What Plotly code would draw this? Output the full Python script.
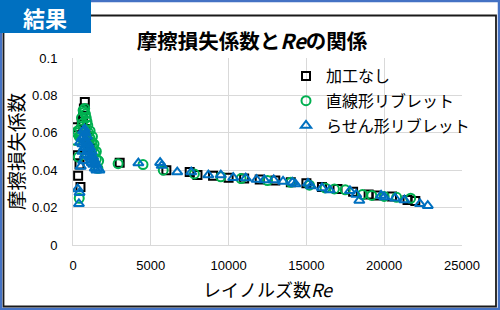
import plotly.graph_objects as go

# ---- data ----
sq_re = [150, 300, 330, 420, 480, 560, 650, 700, 760, 800, 900, 1000, 1100,
         3000, 6000, 7500, 8000, 9000, 10000, 11000, 12000, 13000, 14000,
         15000, 16000, 17000, 18000, 19000, 19500, 20500, 21500, 22000]
sq_f = [0.063, 0.048, 0.037, 0.043, 0.031, 0.066, 0.069, 0.073, 0.0765, 0.062,
        0.058, 0.055, 0.052, 0.044, 0.040, 0.039, 0.0375, 0.037, 0.036, 0.0355,
        0.035, 0.0345, 0.0335, 0.033, 0.031, 0.030, 0.0285, 0.027, 0.0265,
        0.026, 0.024, 0.0235]

ci_re = [150, 250, 300, 350, 400, 400, 450, 500, 550, 600, 650, 700, 750, 800,
         850, 900, 950, 1000, 1100, 1100, 1200, 1250, 1300, 1350, 1400, 1500,
         1500, 1600, 1650, 2900, 4500, 5800, 7800, 9500, 10800, 12500, 14000,
         15200, 16200, 16800, 17500, 18600, 19200, 20000, 20800, 21700]
ci_f = [0.056, 0.060, 0.061, 0.047, 0.025, 0.058, 0.062, 0.058, 0.068, 0.065,
        0.072, 0.071, 0.073, 0.070, 0.068, 0.066, 0.064, 0.060, 0.057, 0.061,
        0.055, 0.058, 0.052, 0.054, 0.049, 0.046, 0.050, 0.041, 0.045, 0.0435,
        0.043, 0.040, 0.038, 0.0365, 0.0355, 0.0345, 0.0335, 0.032, 0.0305,
        0.030, 0.0295, 0.027, 0.0265, 0.026, 0.0255, 0.025]

tr_re = [300, 380, 420, 450, 500, 550, 600, 600, 650, 650, 700, 700, 750, 750,
         800, 800, 850, 900, 900, 950, 1000, 1000, 1050, 1100, 1100, 1150, 1200,
         1200, 1300, 1300, 1400, 1400, 1500, 1500, 1600, 1700, 4200, 5600, 5700,
         6700, 7600, 8700, 9500, 10300, 11100, 11800, 12300, 12900, 13500,
         14100, 14300, 15100, 15300, 16000, 16500, 17800, 18200, 18400, 19800,
         20000, 20700, 21300, 22300, 22800]
tr_f = [0.030, 0.022, 0.028, 0.055, 0.042, 0.057, 0.054, 0.050, 0.061, 0.045,
        0.058, 0.052, 0.062, 0.048, 0.060, 0.056, 0.055, 0.058, 0.050, 0.052,
        0.050, 0.054, 0.048, 0.052, 0.047, 0.046, 0.050, 0.044, 0.047, 0.043,
        0.045, 0.041, 0.043, 0.040, 0.041, 0.040, 0.0438, 0.044, 0.0425, 0.039,
        0.039, 0.0374, 0.0374, 0.036, 0.0358, 0.035, 0.0348, 0.0348, 0.034,
        0.0335, 0.0326, 0.033, 0.0315, 0.0305, 0.0294, 0.029, 0.027, 0.0238,
        0.0265, 0.0257, 0.025, 0.024, 0.022, 0.021]

names = ["加工なし", "直線形リブレット", "らせん形リブレット"]
x_ticks = [0, 5000, 10000, 15000, 20000, 25000]
y_ticks = [0, 0.02, 0.04, 0.06, 0.08, 0.1]
y_tick_text = ["0", "0.02", "0.04", "0.06", "0.08", "0.1"]

W, H = 500, 310
L, R, T, B = 73, 462, 58, 245

def px(x):
    return (x - L) / (R - L)

def py(y):
    return (B - y) / (B - T)

JP = "Noto Sans CJK JP, Noto Sans, sans-serif"
NUM = "Liberation Sans, Arial, sans-serif"

fig = go.Figure()
fig.add_trace(go.Scatter(x=sq_re, y=sq_f, mode="markers", name=names[0],
                         legendgroup="a",
                         marker=dict(symbol="square-open", size=8, color="#000000",
                                     line=dict(width=2))))
fig.add_trace(go.Scatter(x=ci_re, y=ci_f, mode="markers", name=names[1],
                         legendgroup="b",
                         marker=dict(symbol="circle-open", size=9, color="#00B050",
                                     line=dict(width=2))))
fig.add_trace(go.Scatter(x=tr_re, y=tr_f, mode="markers", name=names[2],
                         legendgroup="c",
                         marker=dict(symbol="triangle-up-open", size=9, color="#0070C0",
                                     line=dict(width=2))))

shapes = [
    # outer blue border
    dict(type="rect", xref="paper", yref="paper", x0=px(1), x1=px(499), y0=py(309), y1=py(1),
         line=dict(color="#4472C4", width=2.5), fillcolor="rgba(0,0,0,0)", layer="above"),
    # inner dark frame
    dict(type="rect", xref="paper", yref="paper", x0=px(3.5), x1=px(496), y0=py(306.5), y1=py(15.5),
         line=dict(color="#1a1a1a", width=1.8), fillcolor="rgba(0,0,0,0)", layer="above"),
    # header box
    dict(type="rect", xref="paper", yref="paper", x0=px(0), x1=px(91), y0=py(33), y1=py(0),
         line=dict(width=0), fillcolor="#0070C0", layer="above"),
]

annotations = [
    dict(text="<b>結果</b>", xref="paper", yref="paper", x=px(45), y=py(17),
         xanchor="center", yanchor="middle", showarrow=False,
         font=dict(family=JP, size=22, color="#FFFFFF")),
]

fig.update_layout(
    width=W, height=H,
    margin=dict(l=L, r=W - R, t=T, b=H - B, pad=0),
    paper_bgcolor="#FFFFFF", plot_bgcolor="#FFFFFF",
    title=dict(text="<b>摩擦損失係数と<i>Re</i>の関係</b>", xref="container",
               x=252 / W, xanchor="center",
               y=1 - 42 / H, yanchor="middle",
               font=dict(family=JP, size=20.5, color="#000000")),
    xaxis=dict(range=[0, 25000], tickvals=x_ticks, tickformat="d",
               showgrid=True, gridcolor="#D9D9D9", gridwidth=1.2,
               zeroline=False, showline=True, linecolor="#D9D9D9", linewidth=1,
               ticks="", ticklabelstandoff=8,
               tickfont=dict(family=NUM, size=13, color="#000000"),
               title=dict(text="レイノルズ数<i>Re</i>", standoff=12,
                          font=dict(family=JP, size=18, color="#000000"))),
    yaxis=dict(range=[0, 0.1], tickvals=y_ticks, ticktext=y_tick_text,
               showgrid=True, gridcolor="#D9D9D9", gridwidth=1.2,
               zeroline=False, showline=True, linecolor="#D9D9D9", linewidth=1,
               ticks="", ticklabelstandoff=12,
               tickfont=dict(family=NUM, size=13, color="#000000"),
               title=dict(text="摩擦損失係数", standoff=2,
                          font=dict(family=JP, size=19.5, color="#000000"))),
    legend=dict(x=px(286), y=py(59), xanchor="left", yanchor="top",
                bgcolor="rgba(255,255,255,0)", traceorder="grouped",
                tracegroupgap=1, itemwidth=30,
                font=dict(family=JP, size=16, color="#000000")),
    shapes=shapes,
    annotations=annotations,
)

fig.write_html("out.html")
